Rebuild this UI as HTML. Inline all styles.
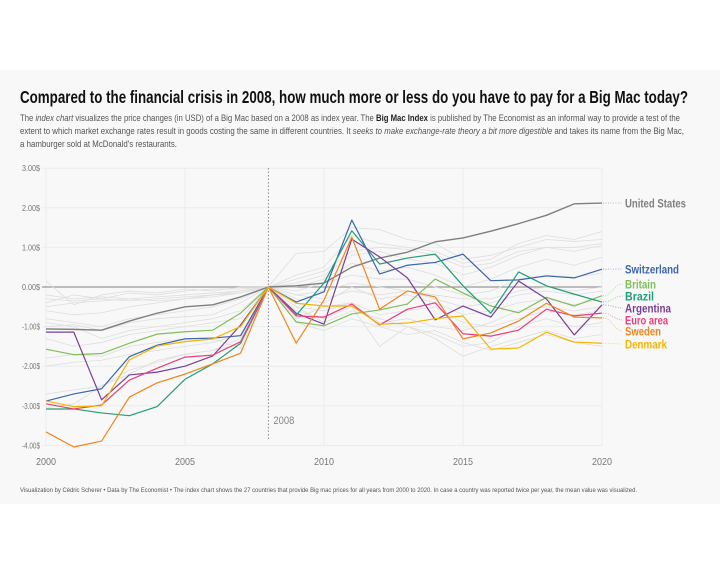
<!DOCTYPE html>
<html><head><meta charset="utf-8">
<style>
html,body{margin:0;padding:0;background:#fff;}
body{width:720px;height:576px;position:relative;overflow:hidden;font-family:"Liberation Sans Narrow","Liberation Sans",sans-serif;}
#bg{position:absolute;left:0;top:70px;width:720px;height:434px;background:#f8f8f8;}
svg{position:absolute;left:0;top:0;}
</style></head>
<body>
<div id="bg"></div>
<svg id="chart" width="720" height="576">
<text x="20" y="103" font-size="17.5" font-weight="bold" fill="#111" textLength="668" lengthAdjust="spacingAndGlyphs">Compared to the financial crisis in 2008, how much more or less do you have to pay for a Big Mac today?</text>
<g font-size="9" fill="#555">
<text x="20" y="121" textLength="660" lengthAdjust="spacingAndGlyphs">The <tspan font-style="italic">index chart</tspan> visualizes the price changes (in USD) of a Big Mac based on a 2008 as index year. The <tspan font-weight="bold" fill="#222">Big Mac Index</tspan> is published by The Economist as an informal way to provide a test of the</text>
<text x="20" y="134" textLength="664" lengthAdjust="spacingAndGlyphs">extent to which market exchange rates result in goods costing the same in different countries. It <tspan font-style="italic">seeks to make exchange-rate theory a bit more digestible</tspan> and takes its name from the Big Mac,</text>
<text x="20" y="147" textLength="157" lengthAdjust="spacingAndGlyphs">a hamburger sold at McDonald's restaurants.</text>
</g>
<g id="grid"></g>
<g id="gray"></g>
<g id="main"></g>
<g id="labels"></g>
<text x="20" y="492" font-size="6.5" fill="#555" textLength="617" lengthAdjust="spacingAndGlyphs">Visualization by Cédric Scherer  •  Data by The Economist  •  The index chart shows the 27 countries that provide Big mac prices for all years from 2000 to 2020. In case a country was reported twice per year, the mean value was visualized.</text>
</svg>
<script>
const years=[2000,2001,2002,2003,2004,2005,2006,2007,2008,2009,2010,2011,2012,2013,2014,2015,2016,2017,2018,2019,2020];
const yTicks=[3,2,1,0,-1,-2,-3,-4];
const xTicks=[2000,2005,2010,2015,2020];
const seriesNames=["United States","Switzerland","Britain","Brazil","Argentina","Euro area","Sweden","Denmark"];
const usVals=[-1.06,-1.07,-1.09,-0.86,-0.66,-0.5,-0.45,-0.25,0,0.03,0.1,0.5,0.73,0.88,1.14,1.24,1.41,1.6,1.81,2.1,2.12];
const swissVals=[-2.88,-2.7,-2.57,-1.76,-1.47,-1.31,-1.29,-1.23,0,-0.38,-0.12,1.69,0.33,0.55,0.62,0.83,0.16,0.18,0.28,0.23,0.45];
const britainVals=[-1.57,-1.71,-1.68,-1.42,-1.19,-1.13,-1.09,-0.66,0,-0.88,-0.98,-0.68,-0.58,-0.43,0.2,-0.15,-0.48,-0.65,-0.26,-0.48,-0.22];
const brazilVals=[-3.08,-3.08,-3.18,-3.25,-3.02,-2.33,-1.94,-1.42,0,-0.71,0.1,1.42,0.58,0.73,0.83,0.03,-0.66,0.38,0.03,-0.18,-0.38];
const argentinaVals=[-1.14,-1.14,-2.85,-2.22,-2.15,-2.0,-1.74,-0.96,0,-0.66,-0.94,1.21,0.76,0.23,-0.83,-0.48,-0.76,0.15,-0.3,-1.21,-0.45];
const euroVals=[-2.95,-3.08,-2.98,-2.35,-2.05,-1.77,-1.72,-1.38,0,-0.73,-0.76,-0.43,-0.96,-0.56,-0.4,-1.18,-1.24,-1.09,-0.56,-0.73,-0.66];
const swedenVals=[-3.66,-4.04,-3.89,-2.78,-2.42,-2.2,-1.94,-1.67,0,-1.42,-0.33,1.26,-0.56,-0.1,-0.25,-1.31,-1.16,-0.86,-0.41,-0.76,-0.78];
const denmarkVals=[-2.88,-3.02,-3.0,-1.84,-1.49,-1.38,-1.31,-1.0,0,-0.41,-0.48,-0.48,-0.94,-0.91,-0.8,-0.73,-1.57,-1.54,-1.14,-1.39,-1.42];
const grayA=[0.15,-0.45,-0.2,-0.1,-0.15,-0.05,-0.1,0.0,0,0.85,0.9,1.5,1.45,1.2,1.1,0.7,0.8,1.0,1.2,1.15,1.2];
const grayB=[-0.3,-0.35,-0.3,-0.15,-0.2,-0.1,-0.05,-0.05,0,0.3,0.5,1.3,1.1,1.0,0.9,0.6,0.7,1.1,1.3,1.2,1.4];
const grayC=[-0.5,-0.4,-0.35,-0.3,-0.25,-0.2,-0.15,-0.1,0,0.1,0.3,0.8,0.9,0.7,0.6,0.3,0.5,0.8,1.0,0.9,1.05];
const grayD=[-0.6,-0.7,-0.65,-0.5,-0.4,-0.3,-0.25,-0.15,0,0.0,0.2,0.6,0.4,0.5,0.3,0.0,0.2,0.5,0.7,0.55,0.75];
const grayE=[-0.8,-0.9,-1.0,-0.8,-0.7,-0.6,-0.5,-0.3,0,-0.1,0.1,0.3,0.2,0.2,0.0,-0.2,-0.1,0.2,0.3,0.25,0.35];
const grayF=[-0.2,-0.3,-0.25,-0.3,-0.35,-0.3,-0.2,-0.15,0,-0.2,-0.3,-0.1,-0.2,-0.1,-0.3,-0.5,-0.4,-0.2,-0.1,-0.2,-0.1];
const grayG=[-0.9,-1.0,-1.3,-1.1,-1.0,-0.9,-0.8,-0.6,0,-0.3,-0.4,0.0,-0.3,-0.2,-0.4,-0.7,-0.6,-0.4,-0.3,-0.45,-0.3];
const grayH=[-1.3,-1.5,-1.4,-1.2,-1.1,-1.0,-0.9,-0.8,0,-0.5,-0.6,-0.4,-0.9,-0.8,-1.0,-1.1,-0.9,-0.6,-0.5,-0.6,-0.5];
const grayI=[-1.8,-1.7,-1.75,-1.5,-1.4,-1.3,-1.3,-1.55,0,-0.6,-0.8,-0.5,-1.5,-1.0,-1.2,-1.5,-1.4,-1.0,-0.8,-1.0,-0.9];
const grayJ=[-2.0,-1.9,-1.85,-1.7,-1.6,-1.5,-1.4,-1.2,0,-0.5,-0.9,-0.6,-0.8,-1.0,-1.3,-1.75,-1.5,-1.3,-1.1,-1.3,-1.2];
const grayK=[-2.7,-2.6,-2.5,-2.1,-1.9,-1.7,-1.6,-1.3,0,-0.9,-1.1,-0.8,-1.0,-1.2,-1.1,-1.4,-1.6,-1.4,-1.2,-1.4,-1.5];
const grayL=[-3.05,-2.95,-2.5,-2.2,-1.85,-1.7,-1.6,-1.45,0,-0.8,-0.5,-0.4,-0.7,-0.6,-0.5,-0.9,-1.0,-0.8,-0.6,-0.7,-0.6];
const grayM=[-0.4,-0.2,-0.3,-0.35,-0.3,-0.25,-0.2,-0.1,0,0.2,0.4,0.9,1.0,0.95,0.8,0.5,0.6,0.9,1.0,1.0,1.1];
const grayN=[-1.0,-0.95,-1.1,-0.9,-0.8,-0.75,-0.7,-0.4,0,-0.2,-0.1,0.1,0.0,-0.1,-0.2,-0.3,-0.3,-0.1,0.0,-0.1,0.0];
const grayAll=[grayA,grayB,grayC,grayD,grayE,grayF,grayG,grayH,grayI,grayJ,grayK,grayL,grayM,grayN];
const mainVals=[usVals,swissVals,britainVals,brazilVals,argentinaVals,euroVals,swedenVals,denmarkVals];
const colors=["#7f7f7f","#3a66ad","#7fbf5a","#1f9e77","#7b3f98","#e8407a","#f0851f","#f5b400"];
const labelY=[203,269,284,296,308,320,331,344];
const labelW=[61,54,31,29,46,43,36,42];
const NS="http://www.w3.org/2000/svg";
const x=v=>46+(v-2000)*(602-46)/20;
const y=v=>287-v*39.6;
function mk(t,a,p){const e=document.createElementNS(NS,t);for(const k in a)e.setAttribute(k,a[k]);p.appendChild(e);return e;}
const grid=document.getElementById('grid');
yTicks.forEach(t=>{
 const l=mk('line',{x1:42,x2:602,y1:y(t),y2:y(t),stroke:"#ececec","stroke-width":1},grid);
 
 
 const tx=mk('text',{x:40,y:y(t)+3,"text-anchor":"end","font-size":8,fill:"#777",textLength:18,lengthAdjust:"spacingAndGlyphs"},grid);
 tx.textContent=t.toFixed(2)+"$";
 
 
});
xTicks.forEach(t=>{
 const l=mk('line',{x1:x(t),x2:x(t),y1:168,y2:446,stroke:"#ececec","stroke-width":1},grid);
 
 
 const tx=mk('text',{x:x(t)-10,y:465,"font-size":10.5,fill:"#777",textLength:20,lengthAdjust:"spacingAndGlyphs"},grid);
 tx.textContent=t;
 
 
});
const zl=mk('line',{x1:42,x2:602,y1:y(0),y2:y(0),stroke:"#999","stroke-width":1.2},grid);


const vl=mk('line',{x1:x(2008),x2:x(2008),y1:168,y2:440,stroke:"#888","stroke-width":1,"stroke-dasharray":"1.5,2"},grid);


const vt=mk('text',{x:x(2008)+5,y:424,"font-size":11,fill:"#888",textLength:21,lengthAdjust:"spacingAndGlyphs"},grid);
vt.textContent="2008";


const pts=vals=>vals.map((v,i)=>x(years[i])+","+y(v)).join(" ");
const gg=document.getElementById('gray');
grayAll.forEach(vals=>{
 const p=mk('polyline',{points:pts(vals),fill:"none",stroke:"#dedede","stroke-width":0.8},gg);
 
 
});
const mg=document.getElementById('main'),lg=document.getElementById('labels');
mainVals.forEach((vals,k)=>{
 const p=mk('polyline',{points:pts(vals),fill:"none",stroke:colors[k],"stroke-width":k==0?1.4:1.2,"stroke-linejoin":"round"},mg);
 
 
 const ey=y(vals[vals.length-1]),ly=labelY[k];
 const c=mk('path',{d:`M603,${ey} C612,${ey} 614,${ly} 623,${ly}`,fill:"none",stroke:colors[k],"stroke-width":0.8,"stroke-dasharray":"1,1.5",opacity:0.6},lg);
 
 
 const t=mk('text',{x:625,y:ly+4.5,"font-size":12,"font-weight":"bold",fill:colors[k],textLength:labelW[k],lengthAdjust:"spacingAndGlyphs"},lg);
 t.textContent=seriesNames[k];
 
 
});
</script>
</body></html>
